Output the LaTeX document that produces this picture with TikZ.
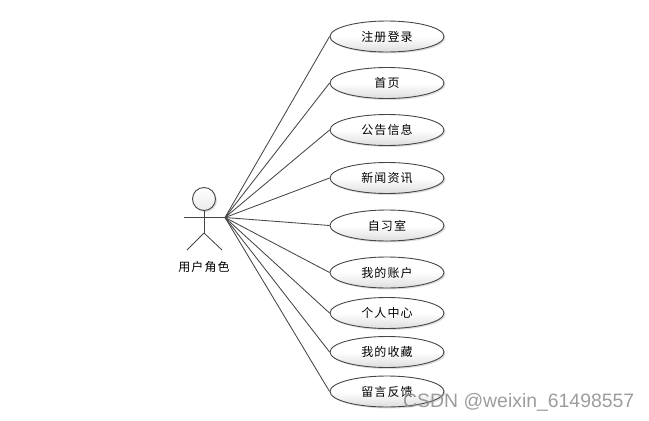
\documentclass[tikz,border=0pt]{standalone}
\usepackage{fontspec}
\setmainfont{Liberation Sans}
\newfontfamily\cjk[LetterSpace=9]{Noto Sans CJK SC}
\usetikzlibrary{shapes.geometric,shadows}
\definecolor{linegray}{RGB}{70,70,70}
\tikzset{
  usecase/.style={ellipse,draw=linegray,line width=0.9pt,minimum width=114pt,minimum height=31pt,inner sep=0pt,
    top color=white,bottom color=black!13,middle color=white,
    drop shadow={shadow xshift=1.5pt,shadow yshift=-1.5pt,fill=black!22,opacity=0.6},
    font=\cjk\fontsize{12pt}{14pt}\selectfont,text=black},
  link/.style={draw=linegray,line width=0.85pt},
  limb/.style={draw=linegray,line width=0.85pt},
  actorhead/.style={circle,draw=linegray,line width=0.9pt,minimum size=23pt,inner sep=0pt,
    top color=white,bottom color=black!8,
    drop shadow={shadow xshift=1.5pt,shadow yshift=-1.5pt,fill=black!22,opacity=0.6}},
  plain/.style={inner sep=0pt,font=\cjk\fontsize{12pt}{14pt}\selectfont,text=black},
  mark text/.style={inner sep=0pt,anchor=west,font=\fontsize{19.4pt}{21pt}\selectfont,text=black!45,opacity=0.85}
}
\begin{document}
\begin{tikzpicture}[x=1pt,y=-1pt]
\useasboundingbox (0,0) rectangle (649,421);
\coordinate (hub) at (225,217.5);
\coordinate (armL) at (184,217.5);
\coordinate (hip) at (204,233);
\coordinate (footL) at (187,250);
\coordinate (footR) at (222,250);
\node[actorhead] (head) at (204,199) {};
\node[usecase] (u1) at (387,36.5) {注册登录};
\node[usecase] (u2) at (387,83) {首页};
\node[usecase] (u3) at (387,130) {公告信息};
\node[usecase] (u4) at (387,178) {新闻资讯};
\node[usecase] (u5) at (387,225.5) {自习室};
\node[usecase] (u6) at (387,272.5) {我的账户};
\node[usecase] (u7) at (387,313) {个人中心};
\node[usecase] (u8) at (387,352) {我的收藏};
\node[usecase] (u9) at (387,391.5) {留言反馈};
\foreach \n in {1,...,9} \draw[link] (hub) -- (u\n.west);
\draw[limb] (armL) -- (hub);
\draw[limb] (head.south) -- (hip);
\draw[limb] (hip) -- (footL);
\draw[limb] (hip) -- (footR);
\node[plain] (actorlabel) at (204,266.5) {用户角色};
\node[mark text] (wm) at (403,402) {CSDN @weixin\_61498557};
\end{tikzpicture}
\end{document}
